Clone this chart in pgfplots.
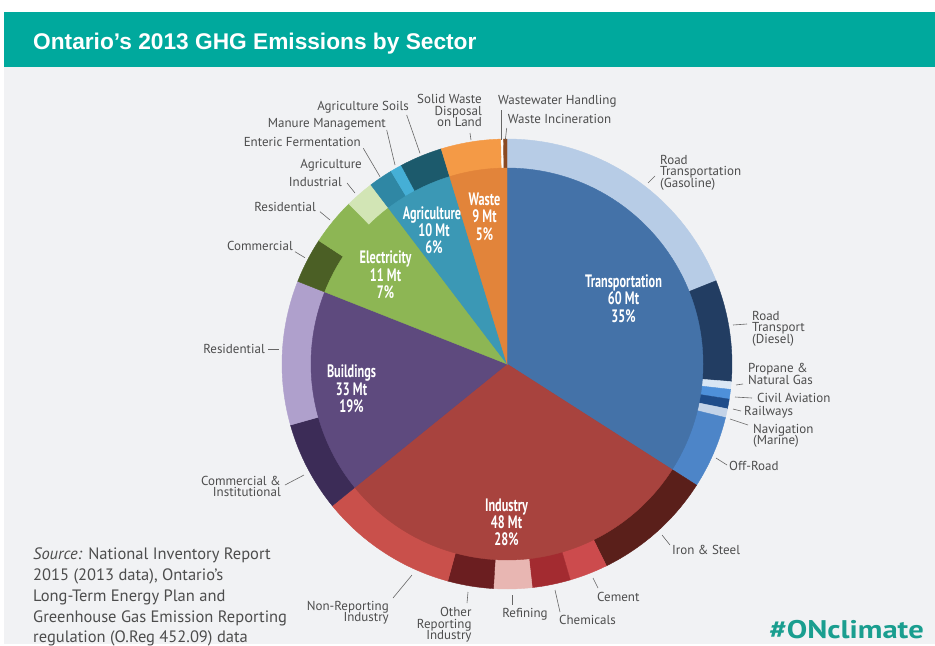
\documentclass[border=0pt]{standalone}
\usepackage{pgfplots}
\usepackage{pgfplotstable}
\pgfplotsset{compat=1.18}
\usepackage{fontspec}
\setmainfont{PT Sans}
\newfontfamily\titlefont{Liberation Sans}
\newfontfamily\condfont[FakeStretch=0.68]{PT Sans}
\newfontfamily\hashfont[FakeStretch=1.2]{PT Sans}

\definecolor{bgpanel}{HTML}{F1F2F4}
\definecolor{headteal}{HTML}{00A99D}
\definecolor{hashteal}{HTML}{1A9E8F}
\definecolor{lbltext}{HTML}{4D4D4D}
\definecolor{leadcol}{HTML}{666666}
% inner sectors
\definecolor{cTrans}{HTML}{4472A8}
\definecolor{cInd}{HTML}{A8433E}
\definecolor{cBld}{HTML}{5E4A7E}
\definecolor{cEle}{HTML}{8DB654}
\definecolor{cAgr}{HTML}{3B98B5}
\definecolor{cWst}{HTML}{E2843A}
% outer ring
\definecolor{oGas}{HTML}{B7CCE6}
\definecolor{oDie}{HTML}{223D62}
\definecolor{oPro}{HTML}{D9E6F4}
\definecolor{oAvi}{HTML}{4E90DA}
\definecolor{oRai}{HTML}{1F4C8A}
\definecolor{oNav}{HTML}{C3D3E8}
\definecolor{oOff}{HTML}{4D85C8}
\definecolor{oIro}{HTML}{5A1F1A}
\definecolor{oCem}{HTML}{CC4B4D}
\definecolor{oChe}{HTML}{A32B30}
\definecolor{oRef}{HTML}{E8B6B2}
\definecolor{oOth}{HTML}{6B1E20}
\definecolor{oNon}{HTML}{C9504B}
\definecolor{oCom}{HTML}{3C2C57}
\definecolor{oRes}{HTML}{AFA0CC}
\definecolor{oEco}{HTML}{4B5F25}
\definecolor{oEmi}{HTML}{8DB654}
\definecolor{oEli}{HTML}{D2E5B5}
\definecolor{oEnt}{HTML}{2F87A4}
\definecolor{oMan}{HTML}{45AFD6}
\definecolor{oSoi}{HTML}{1C5A6C}
\definecolor{oSol}{HTML}{F49A46}
\definecolor{oWwt}{HTML}{FFFFFF}
\definecolor{oInc}{HTML}{8B4A22}

% sector shares as drawn (Mt), clockwise from 12 o'clock
\pgfplotstableread[col sep=comma]{
name,value,color
Transportation,58.24,cTrans
Industry,51.49,cInd
Buildings,28.79,cBld
Electricity,14.82,cEle
Agriculture,9.61,cAgr
Waste,8.08,cWst
}\innertab

\pgfplotstableread[col sep=comma]{
name,value,color
Road Transportation Gasoline,32.44,oGas
Road Transport Diesel,12.45,oDie
Propane and Natural Gas,0.95,oPro
Civil Aviation,1.19,oAvi
Railways,1.19,oRai
Navigation Marine,1.09,oNav
Off-Road,8.93,oOff
Iron and Steel,14.82,oIro
Cement,4.70,oCem
Chemicals,4.70,oChe
Refining,4.70,oRef
Other Reporting Industry,5.61,oOth
Non-Reporting Industry,16.96,oNon
Commercial and Institutional,11.07,oCom
Residential,17.72,oRes
Commercial,5.56,oEco
Electricity other,5.75,oEmi
Residential electricity,3.52,oEli
Enteric Fermentation,2.95,oEnt
Manure Management,1.43,oMan
Agriculture Soils,5.23,oSoi
Solid Waste Disposal on Land,7.36,oSol
Wastewater Handling,0.29,oWwt
Waste Incineration,0.43,oInc
}\outertab

\pgfplotstablegetrowsof{\outertab}
\pgfmathtruncatemacro{\nout}{\pgfplotsretval-1}
\pgfplotstablegetrowsof{\innertab}
\pgfmathtruncatemacro{\nin}{\pgfplotsretval-1}
\def\totout{0}
\pgfplotsforeachungrouped \i in {0,...,\nout}{%
  \pgfplotstablegetelem{\i}{value}\of{\outertab}%
  \pgfmathsetmacro{\totout}{\totout+\pgfplotsretval}%
}
\def\totin{0}
\pgfplotsforeachungrouped \i in {0,...,\nin}{%
  \pgfplotstablegetelem{\i}{value}\of{\innertab}%
  \pgfmathsetmacro{\totin}{\totin+\pgfplotsretval}%
}

\tikzset{
  lbl/.style={text=lbltext, inner sep=0pt, text height=8.5bp, text depth=1.5bp, font=\fontsize{13bp}{12bp}\selectfont},
  inl/.style={text=white, inner sep=0pt, anchor=base, font=\condfont\bfseries\fontsize{18bp}{18bp}\selectfont},
  ld/.style={draw=leadcol, line width=0.6bp},
}
\newcommand{\lb}[4]{\node[lbl, anchor=#1] at (axis cs:#2,#3) {#4};}
\newcommand{\ldr}[4]{\draw[ld] (axis cs:#1,#2) -- (axis cs:#3,#4);}

\begin{document}
\begin{tikzpicture}
\begin{axis}[
  x=1bp, y=1bp, xmin=0, xmax=935, ymin=0, ymax=644, y dir=reverse,
  hide axis, clip=false, anchor=north west, at={(0,0)},
]
% background and header
\fill[white] (axis cs:0,0) rectangle (axis cs:935,644);
\fill[bgpanel] (axis cs:4,67) rectangle (axis cs:935,644);
\fill[headteal] (axis cs:4,12) rectangle (axis cs:935,67);
\node[anchor=base west, inner sep=0pt, text=white, font=\titlefont\bfseries\fontsize{22.7bp}{26bp}\selectfont] at (axis cs:33,49.5) {Ontario’s 2013 GHG Emissions by Sector};

% outer ring wedges
\def\cum{0}
\pgfplotsforeachungrouped \i in {0,...,\nout}{%
  \pgfplotstablegetelem{\i}{value}\of{\outertab}\let\segval\pgfplotsretval
  \pgfplotstablegetelem{\i}{color}\of{\outertab}\let\segcol\pgfplotsretval
  \pgfmathsetmacro{\angA}{90-360*(\cum/\totout)}%
  \pgfmathsetmacro{\cum}{\cum+\segval}%
  \pgfmathsetmacro{\angB}{90-360*(\cum/\totout)}%
  \edef\temp{\noexpand\filldraw[fill=\segcol,draw=\segcol,line width=0.4bp] (axis cs:507,364) -- ++(\angA:225bp) arc[start angle=\angA,end angle=\angB,radius=225bp] -- cycle;}%
  \temp
}
% inner pie wedges
\def\cum{0}
\pgfplotsforeachungrouped \i in {0,...,\nin}{%
  \pgfplotstablegetelem{\i}{value}\of{\innertab}\let\segval\pgfplotsretval
  \pgfplotstablegetelem{\i}{color}\of{\innertab}\let\segcol\pgfplotsretval
  \pgfmathsetmacro{\angA}{90-360*(\cum/\totin)}%
  \pgfmathsetmacro{\cum}{\cum+\segval}%
  \pgfmathsetmacro{\angB}{90-360*(\cum/\totin)}%
  \edef\temp{\noexpand\filldraw[fill=\segcol,draw=\segcol,line width=0.4bp] (axis cs:507,364) -- ++(\angA:196bp) arc[start angle=\angA,end angle=\angB,radius=196bp] -- cycle;}%
  \temp
}

% inner labels
\node[inl] at (axis cs:623.5,287) {Transportation};
\node[inl] at (axis cs:623.5,304.5) {60 Mt};
\node[inl] at (axis cs:623.5,322) {35\%};
\node[inl] at (axis cs:506.5,511.5) {Industry};
\node[inl] at (axis cs:506.5,528.5) {48 Mt};
\node[inl] at (axis cs:506.5,545.5) {28\%};
\node[inl] at (axis cs:351.5,377) {Buildings};
\node[inl] at (axis cs:351.5,395) {33 Mt};
\node[inl] at (axis cs:351.5,412.5) {19\%};
\node[inl] at (axis cs:385.5,263.5) {Electricity};
\node[inl] at (axis cs:385.5,281.5) {11 Mt};
\node[inl] at (axis cs:385.5,298.5) {7\%};
\node[inl] at (axis cs:432,219.5) {Agriculture};
\node[inl] at (axis cs:434,236.5) {10 Mt};
\node[inl] at (axis cs:434,253) {6\%};
\node[inl] at (axis cs:484.5,205) {Waste};
\node[inl] at (axis cs:484.5,222.5) {9 Mt};
\node[inl] at (axis cs:484.5,240) {5\%};

% outer labels and leader lines
\lb{base west}{660}{164}{Road}
\lb{base west}{660}{175.8}{Transportation}
\lb{base west}{660}{187.6}{(Gasoline)}
\ldr{648}{183}{655}{176}
\lb{base west}{752}{320}{Road}
\lb{base west}{752}{331.5}{Transport}
\lb{base west}{752}{343}{(Diesel)}
\ldr{733}{325}{747}{324}
\lb{base west}{748}{372.3}{Propane \&}
\lb{base west}{748}{384.3}{Natural Gas}
\ldr{736}{385}{743}{384}
\lb{base west}{757}{402.3}{Civil Aviation}
\ldr{735}{397}{752}{398}
\lb{base west}{744}{415}{Railways}
\ldr{733}{409}{741}{411}
\lb{base west}{753}{433.3}{Navigation}
\lb{base west}{753}{444.5}{(Marine)}
\ldr{730}{419}{748}{425}
\lb{base west}{729}{470.7}{Off-Road}
\ldr{716}{458}{727}{465}
\lb{base west}{672}{554}{Iron \& Steel}
\ldr{662}{535}{670}{545}
\lb{base west}{597}{601}{Cement}
\ldr{593}{578}{598}{588}
\lb{base west}{559}{624}{Chemicals}
\ldr{555}{590}{560}{612}
\lb{base}{525}{617.7}{Refining}
\ldr{512}{595}{512}{605}
\lb{base east}{471.7}{616.7}{Other}
\lb{base east}{471.7}{628}{Reporting}
\lb{base east}{471.7}{639.5}{Industry}
\ldr{468}{592}{467}{603}
\lb{base east}{389}{610}{Non-Reporting}
\lb{base east}{389}{621.5}{Industry}
\ldr{412}{575}{393}{598}
\lb{base east}{281}{485}{Commercial \&}
\lb{base east}{281}{496.5}{Institutional}
\ldr{285}{485}{304}{475}
\lb{base east}{265}{353.3}{Residential}
\ldr{268}{349}{279}{349}
\lb{base east}{293}{250.7}{Commercial}
\ldr{295}{251.7}{305}{257.7}
\lb{base east}{316}{211.7}{Residential}
\ldr{320}{211.7}{330}{220}
\lb{base east}{362}{168.3}{Agriculture}
\lb{base east}{342}{186}{Industrial}
\ldr{347}{183}{355}{193}
\lb{base east}{361}{146.7}{Enteric Fermentation}
\ldr{363.3}{148.3}{380}{176.7}
\lb{base east}{386}{127.7}{Manure Management}
\ldr{386.7}{130}{395}{165}
\lb{base east}{409}{110}{Agriculture Soils}
\ldr{406.7}{115}{420}{153.3}
\lb{base east}{482}{103}{Solid Waste}
\lb{base east}{482}{115}{Disposal}
\lb{base east}{482}{126.5}{on Land}
\ldr{470}{133}{471}{140}
\lb{base west}{498}{104}{Wastewater Handling}
\ldr{501.7}{110}{501.7}{140}
\lb{base west}{507.7}{123.3}{Waste Incineration}
\ldr{506.7}{128}{505.3}{140}

% footer
\node[anchor=base west, inner sep=0pt, text=lbltext, font=\fontsize{16.5bp}{20.8bp}\selectfont] at (axis cs:33,559) {\textit{Source:} National Inventory Report};
\node[anchor=base west, inner sep=0pt, text=lbltext, font=\fontsize{16.5bp}{20.8bp}\selectfont] at (axis cs:33,580) {2015 (2013 data), Ontario’s};
\node[anchor=base west, inner sep=0pt, text=lbltext, font=\fontsize{16.5bp}{20.8bp}\selectfont] at (axis cs:33,601) {Long-Term Energy Plan and};
\node[anchor=base west, inner sep=0pt, text=lbltext, font=\fontsize{16.5bp}{20.8bp}\selectfont] at (axis cs:33,622) {Greenhouse Gas Emission Reporting};
\node[anchor=base west, inner sep=0pt, text=lbltext, font=\fontsize{16.5bp}{20.8bp}\selectfont] at (axis cs:33,642) {regulation (O.Reg 452.09) data};
\node[anchor=base east, inner sep=0pt, text=hashteal, font=\hashfont\bfseries\fontsize{25.5bp}{26bp}\selectfont] at (axis cs:924,638) {\#ONclimate};
\end{axis}
\end{tikzpicture}
\end{document}
